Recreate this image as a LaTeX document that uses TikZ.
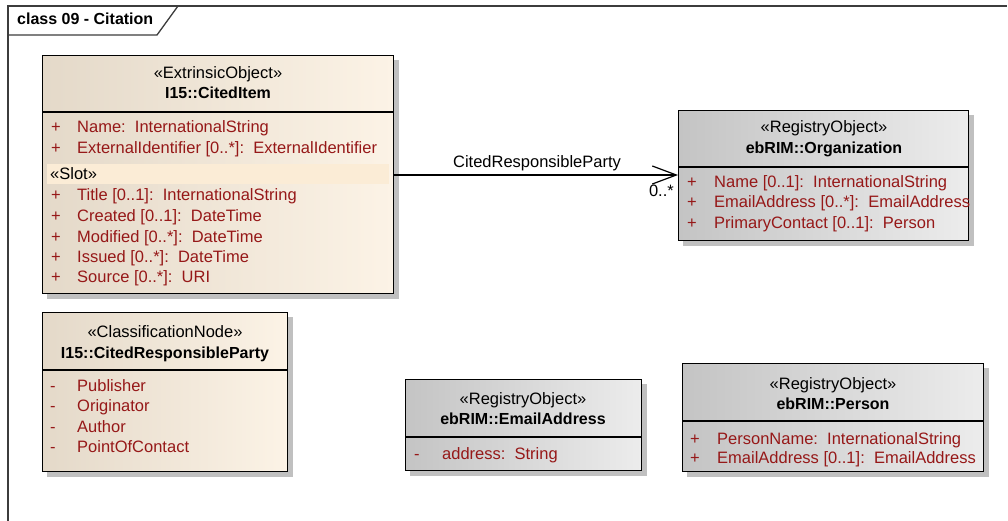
\documentclass[tikz,border=0pt]{standalone}
\usepackage{fontspec}
\setmainfont{Liberation Sans}
\usetikzlibrary{arrows.meta,calc,backgrounds}

\definecolor{attrred}{RGB}{150,24,24}
\definecolor{tanL}{RGB}{228,217,201}
\definecolor{tanR}{RGB}{252,243,230}
\definecolor{greyL}{RGB}{196,196,196}
\definecolor{greyR}{RGB}{236,236,236}
\definecolor{slotband}{RGB}{251,236,214}
\definecolor{shadowc}{RGB}{192,192,192}
\definecolor{framec}{RGB}{60,60,60}

\tikzset{
  every node/.style={font=\fontsize{16.5}{19}\selectfont},
  classbox/.style={draw=black, line width=1.4pt, inner sep=0pt, anchor=north west},
  tanbox/.style={classbox, left color=tanL, right color=tanR},
  greybox/.style={classbox, left color=greyL, right color=greyR},
  stereo/.style={anchor=base, inner sep=0pt},
  cname/.style={anchor=base, inner sep=0pt, font=\fontsize{16}{19}\selectfont\bfseries},
  attr/.style={anchor=base west, inner sep=0pt, text=attrred, font=\fontsize{16.5}{19}\selectfont},
  sepline/.style={draw=black, line width=1.4pt},
  assoc/.style={draw=black, line width=1.2pt, -{Straight Barb[length=24pt,width=18pt,line width=1.2pt]}},
  framepath/.style={draw=framec, line width=1.3pt},
}

\begin{document}
\begin{tikzpicture}[x=1pt, y=-1pt]
\useasboundingbox (0,0) rectangle (1008,521);

% diagram frame and its name tab
\draw[framepath] (8,521) -- (8,6) -- (1007,6);
\draw[framepath] (8,35) -- (157,35) -- (178,6);
\node[anchor=base west, inner sep=0pt, font=\fontsize{16}{19}\selectfont\bfseries] (title) at (17,25) {class 09 - Citation};

% ---------- I15::CitedItem ----------
\node[tanbox, minimum width=351pt, minimum height=238pt] (citem) at (42,55) {};
\fill[slotband] (47,164) rectangle (389,184);
\draw[sepline] (citem.west |- 0,112) -- (citem.east |- 0,112);
\node[stereo] (citemS) at (218,79) {«ExtrinsicObject»};
\node[cname] (citemN) at (218,99) {I15::CitedItem};
\node[attr] (ci1p) at (51,133) {+};
\node[attr] (ci1) at (77,133) {Name:\ \ InternationalString};
\node[attr] (ci2p) at (51,154) {+};
\node[attr] (ci2) at (77,154) {ExternalIdentifier [0..*]:\ \ ExternalIdentifier};
\node[anchor=base west, inner sep=0pt] (cislot) at (50,180) {«Slot»};
\node[attr] (ci3p) at (51,201) {+};
\node[attr] (ci3) at (77,201) {Title [0..1]:\ \ InternationalString};
\node[attr] (ci4p) at (51,221.5) {+};
\node[attr] (ci4) at (77,221.5) {Created [0..1]:\ \ DateTime};
\node[attr] (ci5p) at (51,242) {+};
\node[attr] (ci5) at (77,242) {Modified [0..*]:\ \ DateTime};
\node[attr] (ci6p) at (51,262) {+};
\node[attr] (ci6) at (77,262) {Issued [0..*]:\ \ DateTime};
\node[attr] (ci7p) at (51,282) {+};
\node[attr] (ci7) at (77,282) {Source [0..*]:\ \ URI};

% ---------- ebRIM::Organization ----------
\node[greybox, minimum width=290pt, minimum height=130pt] (org) at (678,110) {};
\draw[sepline] (org.west |- 0,167) -- (org.east |- 0,167);
\node[stereo] (orgS) at (824,133) {«RegistryObject»};
\node[cname] (orgN) at (824,153.5) {ebRIM::Organization};
\node[attr] (or1p) at (687,188) {+};
\node[attr] (or1) at (714,188) {Name [0..1]:\ \ InternationalString};
\node[attr] (or2p) at (687,208) {+};
\node[attr] (or2) at (714,208) {EmailAddress [0..*]:\ \ EmailAddress};
\node[attr] (or3p) at (687,228.5) {+};
\node[attr] (or3) at (714,228.5) {PrimaryContact [0..1]:\ \ Person};

% ---------- I15::CitedResponsibleParty ----------
\node[tanbox, minimum width=245pt, minimum height=159pt] (crp) at (42,312) {};
\draw[sepline] (crp.west |- 0,370) -- (crp.east |- 0,370);
\node[stereo] (crpS) at (165,337) {«ClassificationNode»};
\node[cname] (crpN) at (165,358) {I15::CitedResponsibleParty};
\node[attr] (cr1m) at (50,391.5) {-};
\node[attr] (cr1) at (77,391.5) {Publisher};
\node[attr] (cr2m) at (50,411.5) {-};
\node[attr] (cr2) at (77,411.5) {Originator};
\node[attr] (cr3m) at (50,432) {-};
\node[attr] (cr3) at (77,432) {Author};
\node[attr] (cr4m) at (50,452) {-};
\node[attr] (cr4) at (77,452) {PointOfContact};

% ---------- ebRIM::EmailAddress ----------
\node[greybox, minimum width=236pt, minimum height=91pt] (email) at (405,379) {};
\draw[sepline] (email.west |- 0,437) -- (email.east |- 0,437);
\node[stereo] (emailS) at (523,404) {«RegistryObject»};
\node[cname] (emailN) at (523,424.5) {ebRIM::EmailAddress};
\node[attr] (em1m) at (414,459) {-};
\node[attr] (em1) at (442,459) {address:\ \ String};

% ---------- ebRIM::Person ----------
\node[greybox, minimum width=301pt, minimum height=108pt] (person) at (682,363) {};
\draw[sepline] (person.west |- 0,421) -- (person.east |- 0,421);
\node[stereo] (personS) at (833,389.5) {«RegistryObject»};
\node[cname] (personN) at (833,409) {ebRIM::Person};
\node[attr] (pe1p) at (690,444) {+};
\node[attr] (pe1) at (717,444) {PersonName:\ \ InternationalString};
\node[attr] (pe2p) at (690,463) {+};
\node[attr] (pe2) at (717,463) {EmailAddress [0..1]:\ \ EmailAddress};

% drop shadows behind every class box
\begin{scope}[on background layer]
  \foreach \b in {citem,org,crp,email,person}
    \fill[shadowc] ($(\b.north west)+(5,5)$) rectangle ($(\b.south east)+(5,5)$);
\end{scope}

% association CitedItem -> Organization
\draw[assoc] (citem.east |- 0,175) -- (org.west |- 0,175);
\node[anchor=base, inner sep=0pt] (assocL) at (537,168) {CitedResponsibleParty};
\node[anchor=base east, inner sep=0pt] (assocM) at (674,197) {0..*};
\end{tikzpicture}
\end{document}
